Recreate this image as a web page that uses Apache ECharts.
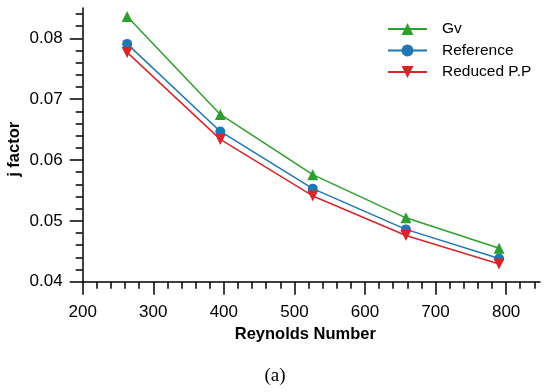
<!DOCTYPE html>
<html>
<head>
<meta charset="utf-8">
<script src="https://cdn.jsdelivr.net/npm/echarts@6/dist/echarts.min.js"></script>
<style>html,body{margin:0;padding:0;background:#fff}#c{width:550px;height:392px}</style>
</head>
<body>
<div id="c"></div>
<script>
const reynolds = [263, 395, 526, 658, 790];
const gv = [0.0836, 0.0675, 0.0576, 0.0505, 0.0455];
const reference = [0.0791, 0.0647, 0.0553, 0.0486, 0.0438];
const reducedPP = [0.0777, 0.0634, 0.0541, 0.0476, 0.0429];
const xTicks = [200, 300, 400, 500, 600, 700, 800];
const yTicks = [0.04, 0.05, 0.06, 0.07, 0.08];

const FONT = '"Liberation Sans", Arial, sans-serif';
const chart = echarts.init(document.getElementById('c'), null, {renderer: 'canvas'});
const pairs = arr => reynolds.map((x, i) => [x, arr[i]]);
const axisCommon = {
  axisLine: {show: true, lineStyle: {color: '#000', width: 1.5}},
  axisTick: {show: true, inside: false, length: 13, lineStyle: {color: '#000', width: 1.5}},
  minorTick: {show: true, splitNumber: 5, length: 7, lineStyle: {color: '#000', width: 1.5}},
  splitLine: {show: false},
  axisLabel: {color: '#000', fontSize: 17, fontFamily: FONT}
};
const mk = (name, data, color, symbol, rot) => ({
  name, type: 'line', data: pairs(data),
  symbol, symbolSize: symbol === 'circle' ? 10 : 11, symbolRotate: rot,
  lineStyle: {color, width: 1.5}, itemStyle: {color},
  emphasis: {disabled: true}, animation: false
});
chart.setOption({
  animation: false,
  grid: {left: 82.7, right: 10, top: 8, bottom: 110.3, containLabel: false, outerBoundsMode: 'none'},
  legend: {
    right: 'auto', left: 387, top: 21, orient: 'vertical', itemGap: 5.5, padding: 0,
    itemWidth: 39, itemHeight: 15,
    textStyle: {fontSize: 15.5, fontFamily: FONT, color: '#000', padding: [0, 0, 0, 10]},
    data: ['Gv', 'Reference', 'Reduced P.P']
  },
  xAxis: Object.assign({}, axisCommon, {
    type: 'value', min: 200, max: 848, interval: 100,
    axisTick: Object.assign({}, axisCommon.axisTick, {customValues: xTicks}),
    axisLabel: Object.assign({}, axisCommon.axisLabel, {customValues: xTicks, margin: 22}),
    name: 'Reynolds Number', nameLocation: 'middle', nameGap: 44, nameMoveOverlap: false,
    nameTextStyle: {fontSize: 16.5, fontWeight: 'bold', fontFamily: FONT, color: '#000', padding: [0, 12, 0, 0]}
  }),
  yAxis: Object.assign({}, axisCommon, {
    type: 'value', min: 0.04, max: 0.085, interval: 0.01,
    axisTick: Object.assign({}, axisCommon.axisTick, {customValues: yTicks}),
    axisLabel: Object.assign({}, axisCommon.axisLabel, {customValues: yTicks, margin: 20,
      formatter: v => v.toFixed(2)}),
    name: 'j factor', nameLocation: 'middle', nameGap: 60, nameMoveOverlap: false,
    nameTextStyle: {fontSize: 16.5, fontWeight: 'bold', fontFamily: FONT, color: '#000', padding: [0, 9, 0, 0]}
  }),
  graphic: [{
    type: 'text', x: 275, y: 376,
    style: {text: '(a)', fontSize: 19, fontFamily: '"Liberation Serif", "Times New Roman", serif', fill: '#000',
      textAlign: 'center', textVerticalAlign: 'middle'}
  }],
  series: [
    mk('Gv', gv, '#2ca02c', 'triangle', 0),
    mk('Reference', reference, '#1f77b4', 'circle', 0),
    mk('Reduced P.P', reducedPP, '#d62728', 'triangle', 180)
  ]
});
</script>
</body>
</html>
